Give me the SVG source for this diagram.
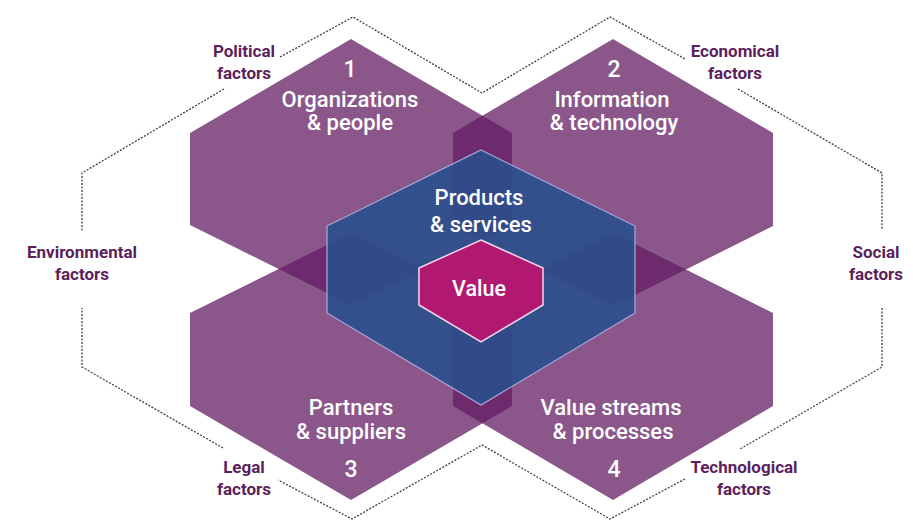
<svg xmlns="http://www.w3.org/2000/svg" width="913" height="520" viewBox="0 0 913 520">
<style>
.hex{fill:rgb(98,28,98);fill-opacity:0.74;}
.blue{fill:rgb(40,80,140);fill-opacity:0.88;stroke:#a9a9dc;stroke-width:1.2;}
.val{fill:#b1186f;stroke:#f3d6ea;stroke-width:1.5;}
.t{font-family:Roboto,"Liberation Sans",sans-serif;font-weight:500;fill:#ffffff;text-anchor:middle;font-size:22px;}
.n{font-size:23px;}
.f{font-family:Roboto,"Liberation Sans",sans-serif;font-weight:700;fill:#5c1f5c;text-anchor:middle;font-size:17px;}
.dot{fill:none;stroke:#4a3a4a;stroke-width:1.3;stroke-dasharray:2 1.5;}
</style>
<rect width="913" height="520" fill="#ffffff"/>
<g id="connectors">
<polyline class="dot" points="280,57 353,17 482,93 610,17 685,59"/>
<polyline class="dot" points="224,89 82,173 82,232"/>
<polyline class="dot" points="738,89 882,173 882,230"/>
<polyline class="dot" points="882,308 882,367 740,449"/>
<polyline class="dot" points="685,479 610,519 482,445 352,519 278,480"/>
<polyline class="dot" points="223,448 82,367 82,308"/>
</g>
<g id="node-organizations">
<polygon class="hex" points="351,39 512,133 512,225 351,305 190,225 190,133"/>
<text class="t n" x="350" y="77">1</text>
<text class="t" x="350" y="107">Organizations</text>
<text class="t" x="350" y="130">&amp; people</text>
</g>
<g id="node-information">
<polygon class="hex" points="613,39 773,133 773,226 613,306 453,226 453,133"/>
<text class="t n" x="614" y="77">2</text>
<text class="t" x="612" y="107">Information</text>
<text class="t" x="614" y="130">&amp; technology</text>
</g>
<g id="node-partners">
<polygon class="hex" points="351,500 512,406 512,313 351,233 190,313 190,406"/>
<text class="t" x="351" y="415">Partners</text>
<text class="t" x="351" y="439">&amp; suppliers</text>
<text class="t n" x="351" y="477">3</text>
</g>
<g id="node-valuestreams">
<polygon class="hex" points="613,500 773,406 773,313 613,233 453,313 453,406"/>
<text class="t" x="611" y="415">Value streams</text>
<text class="t" x="613" y="439">&amp; processes</text>
<text class="t n" x="614" y="477">4</text>
</g>
<g id="node-products">
<polygon class="blue" points="481,150 635,226 635,313 481,405 327,313 327,226"/>
<text class="t" x="479" y="205">Products</text>
<text class="t" x="481" y="232">&amp; services</text>
</g>
<g id="node-value">
<polygon class="val" points="481,240 543,268 543,305 481,342 419,305 419,268"/>
<text class="t" x="479" y="296" style="font-size:21.5px">Value</text>
</g>
<g id="label-political">
<text class="f" x="244" y="57">Political</text>
<text class="f" x="244" y="79">factors</text>
</g>
<g id="label-economical">
<text class="f" x="735" y="57">Economical</text>
<text class="f" x="735" y="79">factors</text>
</g>
<g id="label-environmental">
<text class="f" x="82" y="258">Environmental</text>
<text class="f" x="82" y="280">factors</text>
</g>
<g id="label-social">
<text class="f" x="876" y="258">Social</text>
<text class="f" x="876" y="280">factors</text>
</g>
<g id="label-legal">
<text class="f" x="244" y="473">Legal</text>
<text class="f" x="244" y="495">factors</text>
</g>
<g id="label-technological">
<text class="f" x="744" y="473">Technological</text>
<text class="f" x="744" y="495">factors</text>
</g>
</svg>
